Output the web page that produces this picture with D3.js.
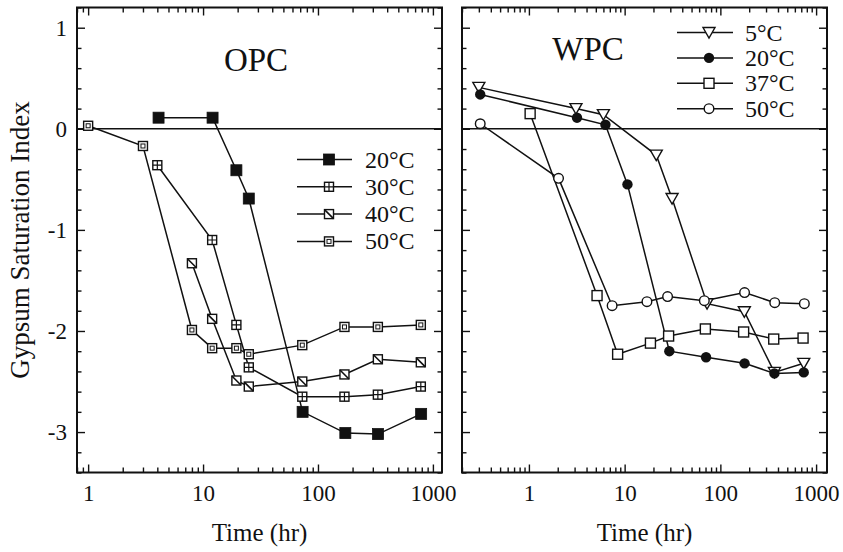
<!DOCTYPE html>
<html>
<head>
<meta charset="utf-8">
<script src="https://cdn.jsdelivr.net/npm/d3@7"></script>
<style>
  body { margin: 0; background: #fff; }
  text { font-family: "Liberation Serif", "Times New Roman", serif; fill: #111; }
</style>
</head>
<body>
<svg id="chart" width="843" height="552"></svg>
<script>
// ---- data ----
const yTickLabels = [1, 0, -1, -2, -3];
const xTickLabels = [1, 10, 100, 1000];

// OPC panel
const opc20Time = [4.1, 12.1, 19.5, 25, 73.5, 173, 333, 790];
const opc20 = [0.11, 0.11, -0.41, -0.69, -2.80, -3.01, -3.02, -2.82];
const opc30Time = [4, 12, 19.5, 25, 73, 170, 332, 785];
const opc30 = [-0.36, -1.10, -1.94, -2.36, -2.65, -2.65, -2.63, -2.55];
const opc40Time = [8, 12, 19.5, 25, 73, 170, 332, 785];
const opc40 = [-1.33, -1.88, -2.49, -2.55, -2.50, -2.43, -2.28, -2.31];
const opc50Time = [1, 3, 8, 12, 19.5, 25, 73, 170, 332, 785];
const opc50 = [0.03, -0.17, -1.99, -2.17, -2.17, -2.23, -2.14, -1.96, -1.96, -1.94];

// WPC panel
const wpc5Time = [0.3, 3.1, 6.0, 21.4, 31.3, 72.6, 178, 367, 743];
const wpc5 = [0.41, 0.20, 0.14, -0.26, -0.69, -1.73, -1.81, -2.41, -2.32];
const wpc20Time = [0.31, 3.18, 6.3, 10.7, 29.3, 70.9, 179, 367, 743];
const wpc20 = [0.34, 0.11, 0.04, -0.55, -2.20, -2.26, -2.32, -2.42, -2.41];
const wpc37Time = [1.03, 5.15, 8.45, 18.6, 28.8, 69.7, 175, 361, 731];
const wpc37 = [0.15, -1.65, -2.23, -2.12, -2.05, -1.98, -2.01, -2.08, -2.07];
const wpc50Time = [0.31, 2.04, 7.4, 17.1, 28.1, 68, 179, 370, 754];
const wpc50 = [0.05, -0.49, -1.75, -1.71, -1.66, -1.70, -1.62, -1.72, -1.73];

const opcSeries = [
  { label: "20°C", time: opc20Time, values: opc20, marker: "fillSquare" },
  { label: "30°C", time: opc30Time, values: opc30, marker: "plusSquare" },
  { label: "40°C", time: opc40Time, values: opc40, marker: "diagSquare" },
  { label: "50°C", time: opc50Time, values: opc50, marker: "dblSquare" }
];
const wpcSeries = [
  { label: "5°C", time: wpc5Time, values: wpc5, marker: "triDown" },
  { label: "20°C", time: wpc20Time, values: wpc20, marker: "fillCircle" },
  { label: "37°C", time: wpc37Time, values: wpc37, marker: "openSquare" },
  { label: "50°C", time: wpc50Time, values: wpc50, marker: "openCircle" }
];

// ---- layout ----
const svg = d3.select("#chart");
const plotTop = 7.5, plotBottom = 472.5;

const y = d3.scaleLinear().domain([-3.4, 1.2]).range([plotBottom, plotTop]);

const panels = [
  { name: "OPC", left: 77, right: 442, domain: [0.8, 1200], series: opcSeries,
    title: { x: 256, y: 71 },
    legend: { x0: 297, x1: 352, mx: 329, tx: 365, y0: 159.5, dy: 27.3 } },
  { name: "WPC", left: 462, right: 827, domain: [0.2, 1300], series: wpcSeries,
    title: { x: 588, y: 60 },
    legend: { x0: 677, x1: 733, mx: 709, tx: 745, y0: 32.5, dy: 25.4 } }
];

function drawMarker(g, type, cx, cy) {
  const m = g.append("g").attr("transform", `translate(${cx},${cy})`);
  const sw = 1.4;
  if (type === "fillSquare") {
    m.append("rect").attr("x", -5.5).attr("y", -5.5).attr("width", 11).attr("height", 11)
      .attr("fill", "#111").attr("stroke", "#111").attr("stroke-width", 0.8);
  } else if (["plusSquare", "diagSquare", "dblSquare", "openSquare"].includes(type)) {
    const h = type === "openSquare" ? 5 : 4.5;
    m.append("rect").attr("x", -h).attr("y", -h).attr("width", 2 * h).attr("height", 2 * h)
      .attr("fill", "#fff").attr("stroke", "#111").attr("stroke-width", sw);
    if (type === "plusSquare") {
      m.append("path").attr("d", `M${-h},0H${h}M0,${-h}V${h}`)
        .attr("stroke", "#111").attr("stroke-width", 1.2);
    } else if (type === "diagSquare") {
      m.append("path").attr("d", `M${-h},${-h}L${h},${h}`)
        .attr("stroke", "#111").attr("stroke-width", 1.6);
    } else if (type === "dblSquare") {
      m.append("rect").attr("x", -2).attr("y", -2).attr("width", 4).attr("height", 4)
        .attr("fill", "none").attr("stroke", "#111").attr("stroke-width", 1);
    }
  } else if (type === "triDown") {
    m.append("path").attr("d", "M-6,-5L6,-5L0,5.5Z")
      .attr("fill", "#fff").attr("stroke", "#111").attr("stroke-width", sw);
  } else if (type === "fillCircle") {
    m.append("circle").attr("r", 5.2).attr("fill", "#111");
  } else if (type === "openCircle") {
    m.append("circle").attr("r", 4.8).attr("fill", "#fff")
      .attr("stroke", "#111").attr("stroke-width", sw);
  }
}

function minorTicks(domain) {
  const out = [];
  for (let e = -1; e <= 3; e++) {
    for (let k = 2; k <= 9; k++) {
      const v = k * Math.pow(10, e);
      if (v >= domain[0] && v <= domain[1]) out.push(v);
    }
  }
  return out;
}

const yMinorTicks = d3.range(-17, 7).map(k => k / 5)
  .filter(v => Math.abs(v - Math.round(v)) > 1e-6);

panels.forEach((p, pi) => {
  const x = d3.scaleLog().domain(p.domain).range([p.left, p.right]);
  const g = svg.append("g");

  const majors = xTickLabels.filter(v => v >= p.domain[0] && v <= p.domain[1]);
  const minors = minorTicks(p.domain);

  // axes: ticks point inward on all four sides
  const addAxis = (axis, transform) => {
    const a = g.append("g").attr("transform", transform).call(axis);
    a.select(".domain").remove();
    a.selectAll("line").attr("stroke", "#111").attr("stroke-width", 1.4);
    return a;
  };

  const xb = addAxis(d3.axisBottom(x).tickValues(majors).tickSize(-8)
    .tickFormat(d3.format("d")), `translate(0,${plotBottom})`);
  xb.selectAll("text").attr("font-size", 23).attr("dy", "0.71em").attr("y", 12).attr("fill", "#111");
  addAxis(d3.axisBottom(x).tickValues(minors).tickSize(-5).tickFormat(""), `translate(0,${plotBottom})`);
  addAxis(d3.axisTop(x).tickValues(majors).tickSize(-8).tickFormat(""), `translate(0,${plotTop})`);
  addAxis(d3.axisTop(x).tickValues(minors).tickSize(-5).tickFormat(""), `translate(0,${plotTop})`);

  const yl = addAxis(d3.axisLeft(y).tickValues(yTickLabels).tickSize(-8)
    .tickFormat(d => pi === 0 ? String(d) : ""), `translate(${p.left},0)`);
  yl.selectAll("text").attr("font-size", 23).attr("x", -10).attr("fill", "#111");
  addAxis(d3.axisLeft(y).tickValues(yMinorTicks).tickSize(-4.5).tickFormat(""), `translate(${p.left},0)`);
  addAxis(d3.axisRight(y).tickValues(yTickLabels).tickSize(-8).tickFormat(""), `translate(${p.right},0)`);
  addAxis(d3.axisRight(y).tickValues(yMinorTicks).tickSize(-4.5).tickFormat(""), `translate(${p.right},0)`);

  // frame
  g.append("rect").attr("x", p.left).attr("y", plotTop)
    .attr("width", p.right - p.left).attr("height", plotBottom - plotTop)
    .attr("fill", "none").attr("stroke", "#111").attr("stroke-width", 2);

  // zero reference line
  g.append("line").attr("x1", p.left).attr("x2", p.right)
    .attr("y1", y(0)).attr("y2", y(0))
    .attr("stroke", "#111").attr("stroke-width", 1.5);

  // series
  const line = d3.line().x(d => x(d[0])).y(d => y(d[1]));
  p.series.forEach(s => {
    const pts = s.time.map((t, i) => [t, s.values[i]]);
    g.append("path").datum(pts).attr("d", line)
      .attr("fill", "none").attr("stroke", "#111").attr("stroke-width", 1.5);
  });
  p.series.forEach(s => {
    s.time.forEach((t, i) => drawMarker(g, s.marker, x(t), y(s.values[i])));
  });

  // title
  g.append("text").attr("x", p.title.x).attr("y", p.title.y)
    .attr("text-anchor", "middle").attr("font-size", 33).text(p.name);

  // legend
  const L = p.legend;
  p.series.forEach((s, i) => {
    const ly = L.y0 + i * L.dy;
    g.append("line").attr("x1", L.x0).attr("x2", L.x1).attr("y1", ly).attr("y2", ly)
      .attr("stroke", "#111").attr("stroke-width", 1.5);
    drawMarker(g, s.marker, L.mx, ly);
    g.append("text").attr("x", L.tx).attr("y", ly + 8).attr("font-size", 24).text(s.label);
  });

  // x axis title
  g.append("text").attr("x", (p.left + p.right) / 2).attr("y", 541)
    .attr("text-anchor", "middle").attr("font-size", 25).text("Time (hr)");
});

// y axis title
svg.append("text")
  .attr("transform", `translate(29,${(plotTop + plotBottom) / 2}) rotate(-90)`)
  .attr("text-anchor", "middle").attr("font-size", 27)
  .text("Gypsum Saturation Index");
</script>
</body>
</html>
